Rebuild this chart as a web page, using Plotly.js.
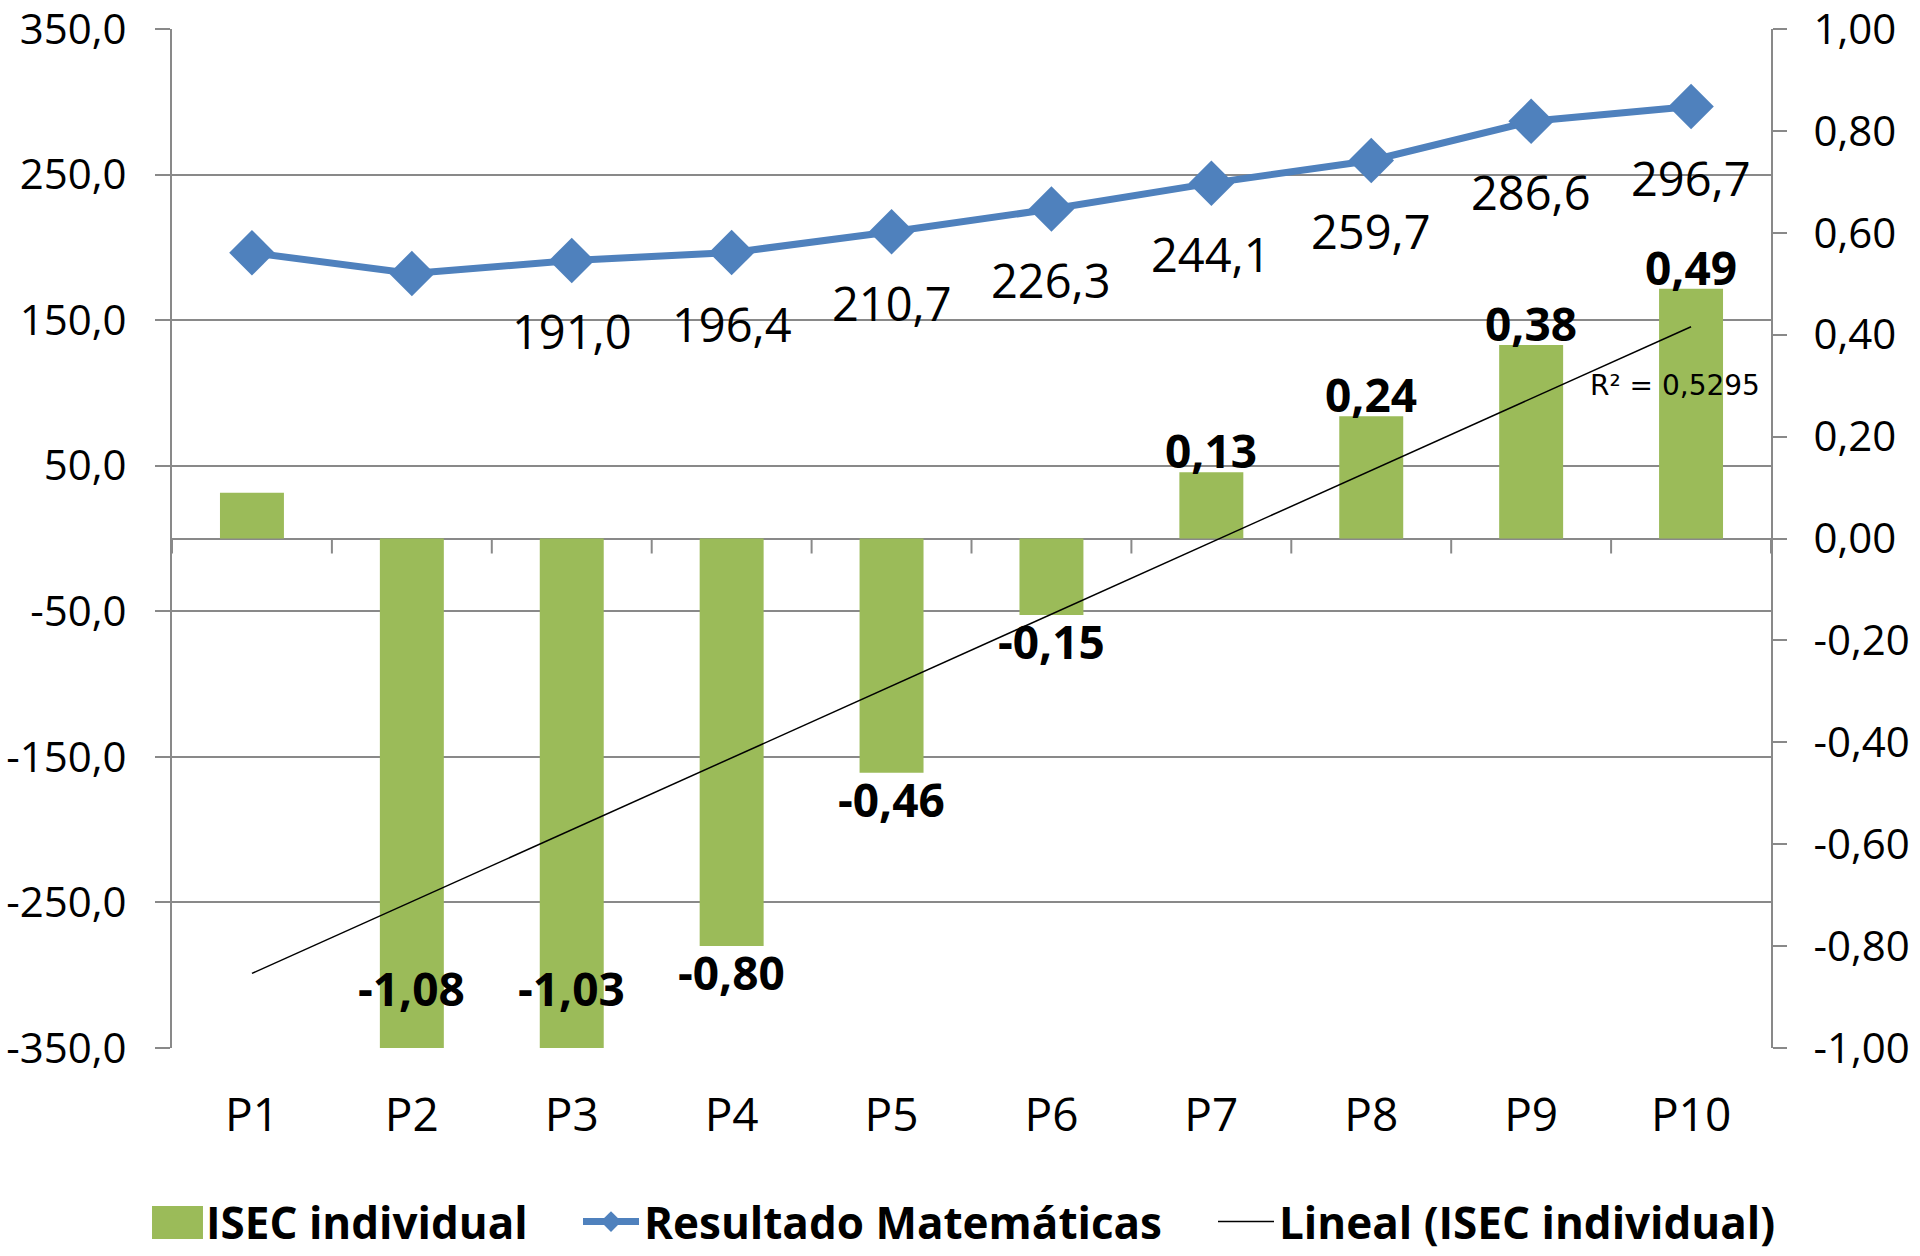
<!DOCTYPE html>
<html>
<head>
<meta charset="utf-8">
<script src="https://cdn.plot.ly/plotly-3.0.1.min.js"></script>
<style>
html,body{margin:0;padding:0;background:#fff;}
#chart{width:1920px;height:1256px;}
</style>
</head>
<body>
<div id="chart"></div>
<script>
// ---- data ----
const categories = ['P1','P2','P3','P4','P5','P6','P7','P8','P9','P10'];
const isecValues = [0.09, -1.08, -1.03, -0.80, -0.46, -0.15, 0.13, 0.24, 0.38, 0.49];
const isecShowLabel = [false, true, true, true, true, true, true, true, true, true];
const mathValues = [196.3, 182.0, 191.0, 196.4, 210.7, 226.3, 244.1, 259.7, 286.6, 296.7];
const mathShowLabel = [false, false, true, true, true, true, true, true, true, true];
const leftTickVals = [-350, -250, -150, -50, 50, 150, 250, 350];
const rightTickVals = [-1, -0.8, -0.6, -0.4, -0.2, 0, 0.2, 0.4, 0.6, 0.8, 1];
const r2Text = 'R² = 0,5295';
const seriesNames = ['ISEC individual', 'Resultado Matemáticas', 'Lineal (ISEC individual)'];

// ---- styling ----
const FONT = 'Open Sans, Noto Sans, DejaVu Sans, sans-serif';
const GRID = '#898989';
const BAR_COLOR = '#9BBB59';
const Y2MIN = -1, Y2MAX = 1;

function fmt(v, d) { return v.toFixed(d).replace('.', ','); }

// linear trend of ISEC individual (least squares, as Excel's "Lineal")
const xs = categories.map((_, i) => i + 1);
const n = xs.length;
const mx = xs.reduce((a, b) => a + b, 0) / n;
const my = isecValues.reduce((a, b) => a + b, 0) / n;
let sxy = 0, sxx = 0;
for (let i = 0; i < n; i++) { sxy += (xs[i] - mx) * (isecValues[i] - my); sxx += (xs[i] - mx) ** 2; }
const slope = sxy / sxx;
const intercept = my - slope * mx;
const trendValues = xs.map(x => intercept + slope * x);

const barTrace = {
  type: 'bar', name: seriesNames[0], x: categories, y: isecValues, yaxis: 'y2',
  marker: { color: BAR_COLOR }, hoverinfo: 'skip', legend: 'legend'
};
const lineTrace = {
  type: 'scatter', name: seriesNames[1], x: categories, y: mathValues, yaxis: 'y',
  mode: 'lines+markers',
  line: { color: '#4F81BD', width: 7 },
  marker: { symbol: 'diamond', size: 35, color: '#4F81BD' },
  hoverinfo: 'skip', cliponaxis: false, legend: 'legend2'
};
const trendTrace = {
  type: 'scatter', name: seriesNames[2], x: categories, y: trendValues, yaxis: 'y2',
  mode: 'lines', line: { color: '#000', width: 1.5 }, hoverinfo: 'skip', legend: 'legend3'
};

const annotations = [];
// bar data labels (bold)
isecValues.forEach((v, i) => {
  if (!isecShowLabel[i]) return;
  let y = v, shift;
  if (v < Y2MIN) { y = Y2MIN; shift = 60; }
  else if (v < 0) { shift = -26; }
  else { shift = 22; }
  annotations.push({
    x: categories[i], y: y, xref: 'x', yref: 'y2', yanchor: 'middle', yshift: shift,
    text: fmt(v, 2), showarrow: false,
    font: { family: FONT, size: 46, color: '#000', weight: 'bold' }
  });
});
// line data labels (below the markers)
mathValues.forEach((v, i) => {
  if (!mathShowLabel[i]) return;
  annotations.push({
    x: categories[i], y: v, xref: 'x', yref: 'y', yanchor: 'middle', yshift: -71,
    text: fmt(v, 1), showarrow: false,
    font: { family: FONT, size: 47, color: '#000' }
  });
});
annotations.push({
  x: 8.9, y: 0.30, xref: 'x', yref: 'y2', text: r2Text, showarrow: false,
  xanchor: 'center', yanchor: 'middle',
  font: { family: 'DejaVu Sans, sans-serif', size: 28, color: '#000' }
});

// category-boundary tick marks on the zero line
const shapes = [];
for (let k = 0; k <= categories.length; k++) {
  shapes.push({
    type: 'line', xref: 'x', yref: 'y2', x0: k - 0.5, x1: k - 0.5,
    ysizemode: 'pixel', yanchor: 0, y0: 0, y1: -15,
    line: { color: GRID, width: 2 }, layer: 'below'
  });
}
// larger legend swatch for the bar series (as in the reference legend)
shapes.push({
  type: 'rect', xref: 'paper', yref: 'paper',
  x0: (152 - 172) / 1600, x1: (203 - 172) / 1600,
  y0: (1048 - 1239) / 1019, y1: (1048 - 1206) / 1019,
  fillcolor: BAR_COLOR, line: { width: 0 }, layer: 'above'
});

const legendBase = {
  orientation: 'h', xref: 'container', yref: 'container',
  xanchor: 'left', y: 0.0271, yanchor: 'middle', itemwidth: 56,
  bgcolor: 'rgba(0,0,0,0)', borderwidth: 0,
  font: { family: FONT, size: 44, color: '#000', weight: 'bold' }
};

const layout = {
  width: 1920, height: 1256,
  paper_bgcolor: '#fff', plot_bgcolor: '#fff',
  separators: ',.',
  font: { family: FONT, size: 42, color: '#000' },
  margin: { l: 172, r: 149, t: 29, b: 208, pad: 0 },
  bargap: 0.6,
  showlegend: true,
  legend: Object.assign({}, legendBase, { x: 140 / 1920 }),
  legend2: Object.assign({}, legendBase, { x: 578 / 1920 }),
  legend3: Object.assign({}, legendBase, { x: 1213 / 1920 }),
  xaxis: {
    type: 'category', range: [-0.5, categories.length - 0.5],
    showgrid: false, showline: false, zeroline: false, ticks: '',
    tickfont: { family: FONT, size: 46, color: '#000' },
    ticklabelstandoff: 36, fixedrange: true
  },
  yaxis: {
    range: [-350, 350], tickmode: 'array', tickvals: leftTickVals,
    ticktext: leftTickVals.map(v => fmt(v, 1)),
    showgrid: true, gridcolor: GRID, gridwidth: 2,
    showline: true, linecolor: GRID, linewidth: 2,
    ticks: 'outside', ticklen: 15, tickwidth: 2, tickcolor: GRID,
    zeroline: true, zerolinecolor: GRID, zerolinewidth: 2,
    tickfont: { family: FONT, size: 42, color: '#000' },
    ticklabelstandoff: 20, ticklabeloverflow: 'allow', fixedrange: true
  },
  yaxis2: {
    overlaying: 'y', side: 'right', range: [Y2MIN, Y2MAX],
    tickmode: 'array', tickvals: rightTickVals,
    ticktext: rightTickVals.map(v => fmt(v, 2)),
    showgrid: false, showline: true, linecolor: GRID, linewidth: 2,
    ticks: 'outside', ticklen: 14, tickwidth: 2, tickcolor: GRID,
    zeroline: false,
    tickfont: { family: FONT, size: 42, color: '#000' },
    ticklabelstandoff: 18, ticklabeloverflow: 'allow', fixedrange: true
  },
  annotations: annotations,
  shapes: shapes
};

Plotly.newPlot('chart', [barTrace, lineTrace, trendTrace], layout, { displayModeBar: false, staticPlot: true });
</script>
</body>
</html>
